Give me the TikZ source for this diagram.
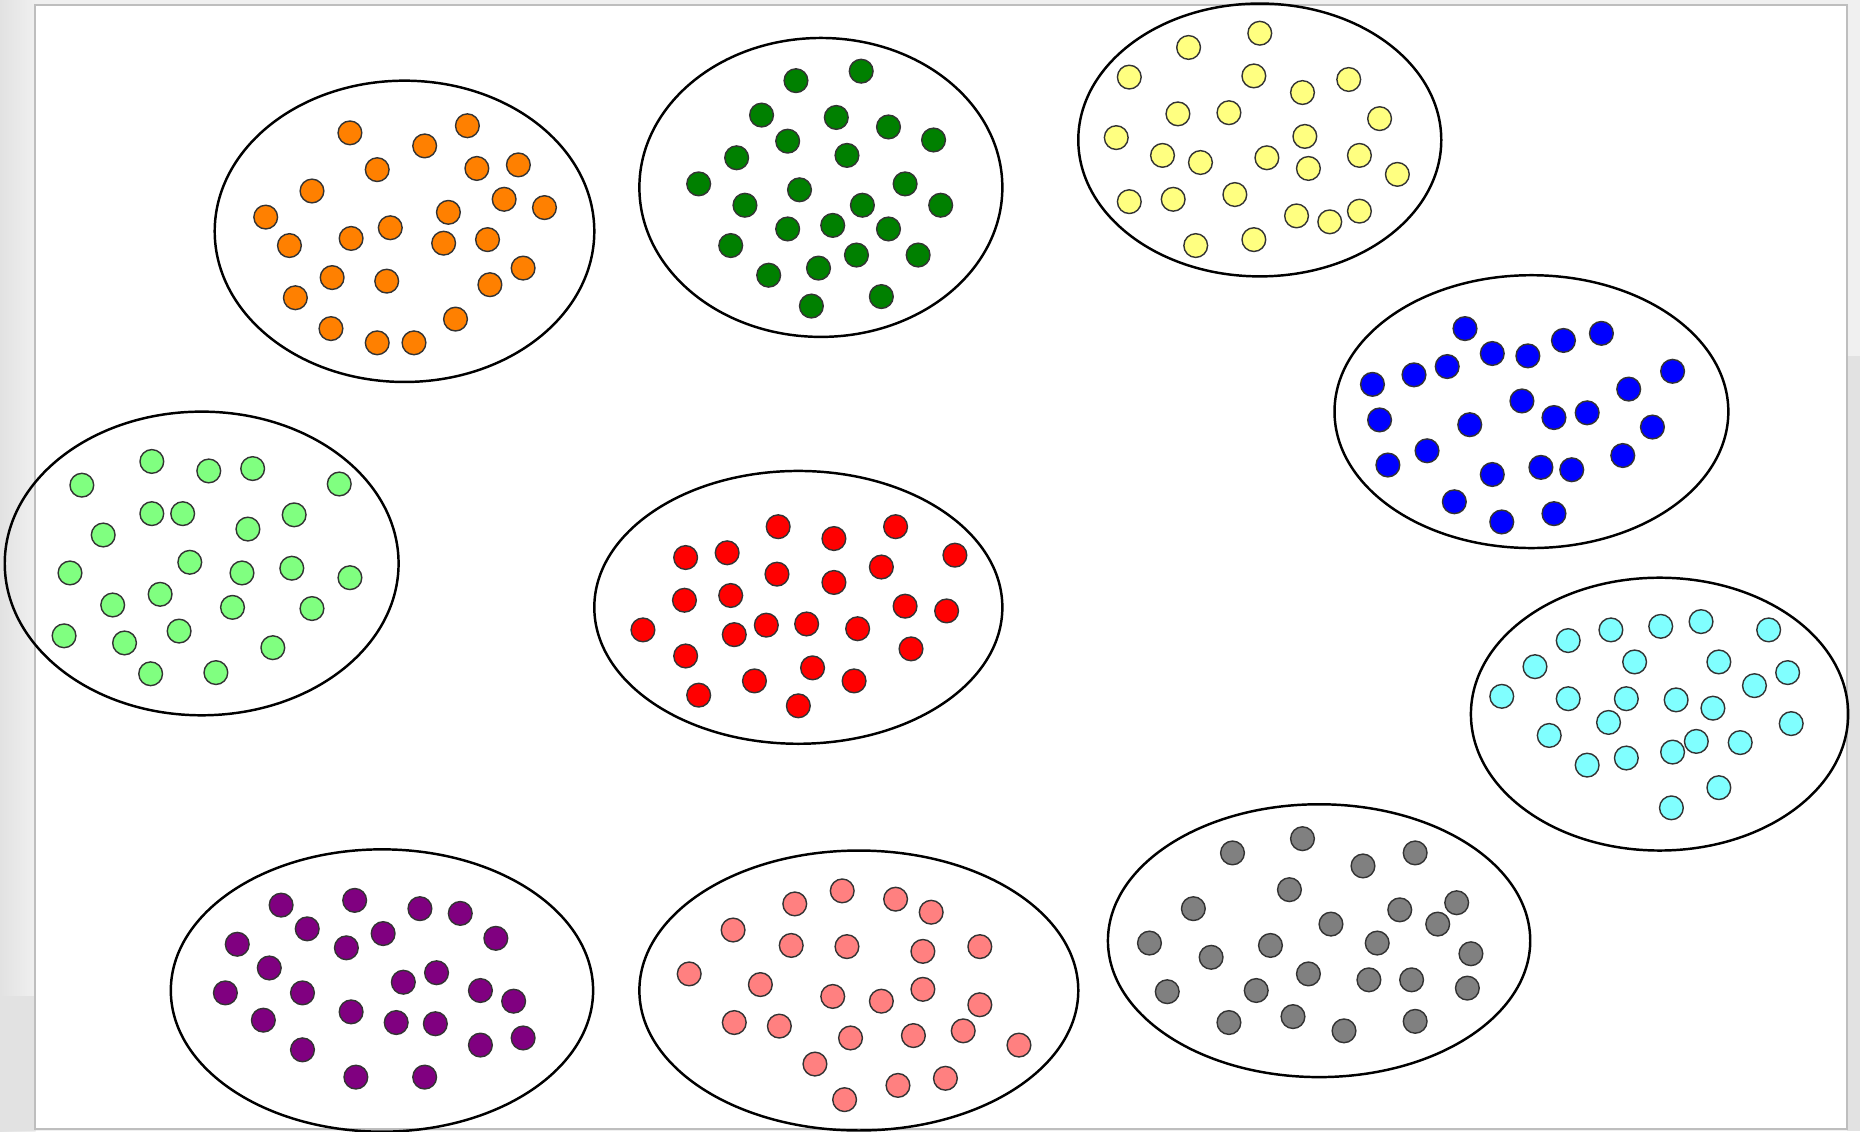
\documentclass[tikz,border=0pt]{standalone}
\definecolor{cOrange}{HTML}{FF8000}
\definecolor{cDGreen}{HTML}{008000}
\definecolor{cYellow}{HTML}{FFFF80}
\definecolor{cBlue}{HTML}{0000FF}
\definecolor{cLGreen}{HTML}{80FF80}
\definecolor{cRed}{HTML}{FF0000}
\definecolor{cCyan}{HTML}{80FFFF}
\definecolor{cPurple}{HTML}{800080}
\definecolor{cPink}{HTML}{FF8080}
\definecolor{cGray}{HTML}{808080}
\definecolor{bgA}{HTML}{E2E2E2}
\definecolor{bgB}{HTML}{F0F0F0}
\definecolor{pageEdge}{HTML}{BEBEBE}
\tikzset{
  group/.style={draw=black, line width=0.7pt},
  dot/.style={draw=black!80, line width=0.4pt, fill=#1},
}
\begin{document}
\begin{tikzpicture}[x=0.011862cm, y=-0.011862cm]
\useasboundingbox (0,0) rectangle (1568,953.5);
% background
\fill[bgB] (0,0) rectangle (1568,953.5);
\shade[left color=bgA, right color=bgB] (0,0) rectangle (30,953.5);
\fill[bgA] (0,840) rectangle (30,953.5);
\fill[bgA] (1557,300) rectangle (1568,953.5);
\filldraw[fill=white, draw=pageEdge, line width=0.6pt] (29.5,4.5) rectangle (1557,951.8);
% groups
\draw[group] (341,195) ellipse [x radius=160, y radius=127];
\draw[group] (692,158) ellipse [x radius=153, y radius=126];
\draw[group] (1062,118) ellipse [x radius=153, y radius=115];
\draw[group] (1291,347) ellipse [x radius=166, y radius=115];
\draw[group] (170,475) ellipse [x radius=166, y radius=128];
\draw[group] (673,512) ellipse [x radius=172, y radius=115];
\draw[group] (1399,602) ellipse [x radius=159, y radius=115];
\draw[group] (322,835) ellipse [x radius=178, y radius=119];
\draw[group] (724,835) ellipse [x radius=185, y radius=118];
\draw[group] (1112,793) ellipse [x radius=178, y radius=115];
% dots
\foreach \p in {(295,112),(394,106),(358,123),(318,143),(402,142),(437,139),(263,161),(425,168),(459,175),(224,183),(378,179),(329,192),(296,201),(244,207),(374,205),(411,202),(441,226),(280,234),(326,237),(413,240),(249,251),(384,269),(279,277),(318,289),(349,289)}
  \draw[dot=cOrange] \p circle (10);
\foreach \p in {(671,68),(726,60),(642,97),(705,99),(749,107),(664,119),(787,118),(621,133),(714,131),(589,155),(674,160),(763,155),(628,173),(727,173),(793,173),(664,193),(702,190),(749,193),(616,207),(722,215),(774,215),(648,232),(690,226),(743,250),(684,258)}
  \draw[dot=cDGreen] \p circle (10);
\foreach \p in {(1062,28),(1002,40),(952,65),(1057,64),(1137,67),(1098,78),(993,96),(1036,95),(1163,100),(941,116),(1100,115),(980,131),(1012,137),(1068,133),(1103,142),(1146,131),(1178,147),(952,170),(989,168),(1041,164),(1093,182),(1121,187),(1146,178),(1008,207),(1057,202)}
  \draw[dot=cYellow] \p circle (10);
\foreach \p in {(1235,277),(1350,281),(1258,298),(1288,300),(1318,287),(1220,309),(1192,316),(1157,324),(1410,313),(1373,328),(1283,338),(1163,354),(1239,358),(1310,352),(1338,348),(1393,360),(1203,380),(1170,392),(1368,384),(1258,400),(1299,394),(1325,396),(1226,423),(1266,440),(1310,433)}
  \draw[dot=cBlue] \p circle (10);
\foreach \p in {(128,389),(69,409),(176,397),(213,395),(286,408),(128,433),(154,433),(248,434),(87,451),(209,446),(160,474),(59,483),(204,483),(246,479),(295,487),(135,501),(95,510),(196,512),(263,513),(54,536),(151,532),(105,542),(230,546),(127,568),(182,567)}
  \draw[dot=cLGreen] \p circle (10);
\foreach \p in {(656,444),(755,444),(703,454),(578,470),(613,466),(805,468),(743,478),(655,484),(703,491),(577,506),(616,502),(763,511),(798,515),(542,531),(646,527),(680,526),(723,530),(619,535),(578,553),(768,547),(685,563),(636,574),(720,574),(589,586),(673,595)}
  \draw[dot=cRed] \p circle (10);
\foreach \p in {(1434,524),(1358,531),(1400,528),(1322,540),(1491,531),(1294,562),(1378,558),(1449,558),(1507,567),(1479,578),(1266,587),(1322,589),(1371,589),(1413,590),(1444,597),(1510,610),(1356,609),(1306,620),(1430,625),(1467,626),(1338,645),(1371,639),(1410,634),(1449,664),(1409,681)}
  \draw[dot=cCyan] \p circle (10);
\foreach \p in {(237,763),(299,759),(354,766),(388,770),(259,783),(323,787),(418,791),(200,796),(292,799),(227,816),(368,820),(340,828),(405,835),(190,837),(255,837),(433,844),(296,853),(222,860),(334,862),(367,863),(441,875),(405,881),(255,885),(300,908),(358,908)}
  \draw[dot=cPurple] \p circle (10);
\foreach \p in {(710,751),(670,762),(755,758),(785,769),(618,784),(667,797),(714,798),(778,802),(826,798),(581,821),(641,830),(778,834),(702,840),(743,844),(826,847),(619,862),(657,865),(717,875),(770,873),(812,869),(859,881),(687,897),(797,909),(757,915),(712,927)}
  \draw[dot=cPink] \p circle (10);
\foreach \p in {(1098,707),(1039,719),(1149,730),(1193,719),(1087,750),(1006,766),(1180,767),(1228,761),(1122,779),(1212,779),(969,795),(1071,797),(1161,795),(1021,807),(1240,804),(1103,821),(1154,826),(1190,826),(984,836),(1059,835),(1237,833),(1090,857),(1036,862),(1133,869),(1193,861)}
  \draw[dot=cGray] \p circle (10);
\end{tikzpicture}
\end{document}
